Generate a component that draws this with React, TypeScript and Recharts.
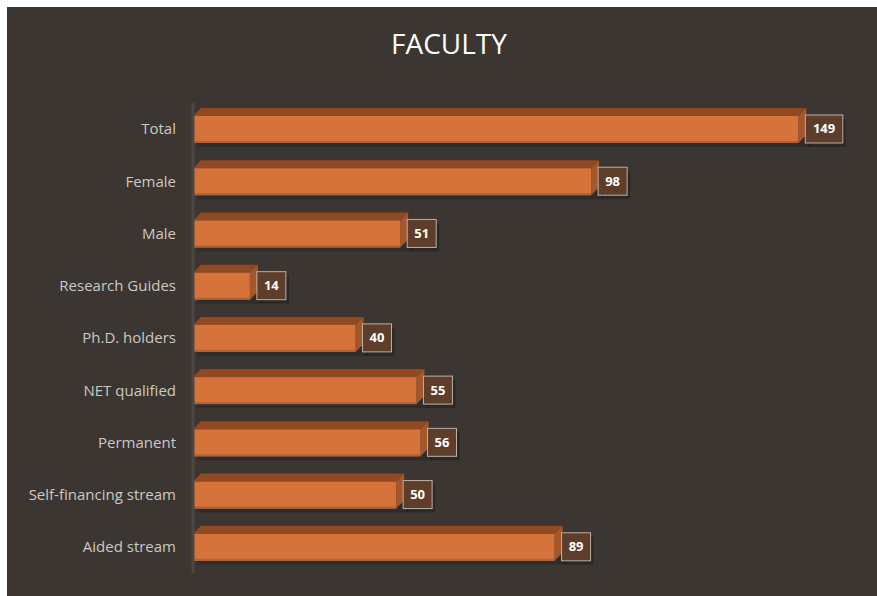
import React from "react";
import { BarChart, Bar, XAxis, YAxis, LabelList } from "recharts";

const categories = [
  "Total",
  "Female",
  "Male",
  "Research Guides",
  "Ph.D. holders",
  "NET qualified",
  "Permanent",
  "Self-financing stream",
  "Aided stream",
];
const values = [149, 98, 51, 14, 40, 55, 56, 50, 89];
const chartTitle = "FACULTY";
const xMax = 160;

const data = categories.map((c, i) => ({ name: c, value: values[i] }));

const DEPTH = 8;

const Bar3D = (props: any) => {
  const { x, y, width, height } = props;
  if (width == null || width <= 0) return null;
  const d = DEPTH;
  return (
    <g>
      <rect x={x + 4} y={y + 4} width={width + d} height={height} fill="#000" opacity={0.18} />
      <path
        d={`M${x},${y} L${x + d},${y - d} L${x + width + d},${y - d} L${x + width},${y} Z`}
        fill="#8e4a25"
      />
      <path
        d={`M${x + width},${y} L${x + width + d},${y - d} L${x + width + d},${y + height - d} L${x + width},${y + height} Z`}
        fill="#a4572b"
      />
      <rect x={x} y={y} width={width} height={height} fill="#d6733a" />
      <rect x={x} y={y + height - 2} width={width} height={2} fill="#b85f2e" />
    </g>
  );
};

const ValueLabel = (props: any) => {
  const { x, y, width, height, value } = props;
  const s = String(value);
  const w = s.length * 8.5 + 12;
  const h = 28;
  const bx = x + width + 7;
  const by = y - 1;
  return (
    <g>
      <rect x={bx + 3} y={by + 4} width={w} height={h} fill="#000" opacity={0.25} />
      <rect x={bx} y={by} width={w} height={h} fill="#5e3e2b" stroke="#b9b1a9" strokeWidth={1} />
      <text
        x={bx + w / 2}
        y={by + h / 2 + 1}
        textAnchor="middle"
        dominantBaseline="middle"
        fill="#ffffff"
        fontFamily="'Open Sans', sans-serif"
        fontWeight={700}
        fontSize={13}
      >
        {s}
      </text>
    </g>
  );
};

export default function App() {
  return (
    <div
      style={{
        position: "fixed",
        left: 0,
        top: 0,
        width: 877,
        height: 596,
        background: "#ffffff",
        overflow: "hidden",
      }}
    >
      <div
        style={{
          position: "absolute",
          left: 7,
          top: 7,
          width: 870,
          height: 589,
          background: "#3b3632",
        }}
      >
        <div
          style={{
            position: "absolute",
            left: 0,
            top: 22,
            width: 870,
            paddingLeft: 14,
            boxSizing: "border-box",
            textAlign: "center",
            color: "#ffffff",
            fontFamily: "'Open Sans', sans-serif",
            fontSize: 28,
            lineHeight: "28px",
          }}
        >
          {chartTitle}
        </div>
        <div style={{ position: "absolute", left: 0, top: 0 }}>
          <BarChart
            width={870}
            height={589}
            data={data}
            layout="vertical"
            margin={{ top: 96, right: 34, bottom: 23, left: 0 }}
            barCategoryGap={0}
          >
            <XAxis type="number" domain={[0, xMax]} hide />
            <YAxis
              type="category"
              dataKey="name"
              width={186}
              tickSize={0}
              tickMargin={17}
              axisLine={{ stroke: "#4c4742", strokeWidth: 3 }}
              tickLine={false}
              tick={{ fill: "#cdc8c2", fontSize: 15, fontFamily: "'Open Sans', sans-serif" }}
              interval={0}
            />
            <Bar dataKey="value" barSize={27} shape={<Bar3D />} isAnimationActive={false}>
              <LabelList dataKey="value" content={<ValueLabel />} />
            </Bar>
          </BarChart>
        </div>
      </div>
    </div>
  );
}
